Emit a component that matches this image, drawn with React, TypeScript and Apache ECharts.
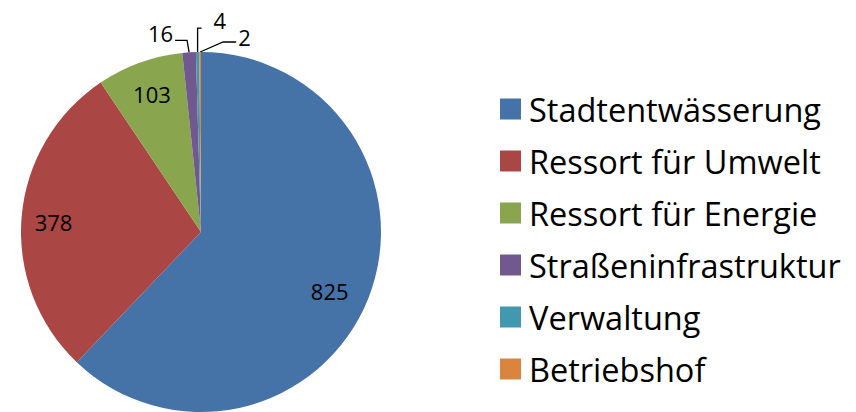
import React, { useEffect, useRef } from "react";
import * as echarts from "echarts";

const categories = [
  "Stadtentwässerung",
  "Ressort für Umwelt",
  "Ressort für Energie",
  "Straßeninfrastruktur",
  "Verwaltung",
  "Betriebshof",
];
const values = [825, 378, 103, 16, 4, 2];
const colors = ["#4572A7", "#AA4643", "#89A54E", "#71588F", "#4198AF", "#DB843D"];

// layout constants
const CX = 201;
const CY = 232;
const R = 180;
const INSIDE_FRAC = 0.8;
// small nudges of the inside labels (best-fit placement)
const insideNudge: [number, number][] = [
  [-5, 5],
  [-4, 2],
  [0, -3],
];
// leader lines for small slices: [dx1, dy1] from slice edge, then horizontal dx2, label side
const leaders: Record<number, { d1: [number, number]; d2: number; side: "left" | "right"; ly: number; gap: number }> = {
  3: { d1: [-2, -12], d2: -12, side: "right", ly: -7, gap: 2 },
  4: { d1: [0, -24], d2: 4, side: "left", ly: -8, gap: 12 },
  5: { d1: [23, -10], d2: 13, side: "left", ly: -5, gap: 2 },
};

export default function App() {
  const ref = useRef<HTMLDivElement>(null);
  useEffect(() => {
    if (!ref.current) return;
    const chart = echarts.init(ref.current, null, { renderer: "svg" });
    const total = values.reduce((a, b) => a + b, 0);
    const midAngle = (i: number) => {
      let cum = 0;
      for (let k = 0; k < i; k++) cum += values[k];
      return ((cum + values[i] / 2) / total) * Math.PI * 2;
    };
    const data = categories.map((name, i) => ({
      name,
      value: values[i],
      itemStyle: { color: colors[i] },
      labelLine: { show: i >= 3 },
    }));
    chart.setOption({
      animation: false,
      legend: {
        orient: "vertical",
        left: 500,
        top: 92.5,
        itemWidth: 21,
        itemHeight: 21,
        itemGap: 19,
        icon: "rect",
        padding: 0,
        selectedMode: false,
        textStyle: {
          fontFamily: "Open Sans",
          fontSize: 32.5,
          lineHeight: 32.5,
          color: "#000",
          padding: [0, 0, 0, 3],
        },
        data: categories,
      },
      series: [
        {
          type: "pie",
          center: [CX, CY],
          radius: R,
          startAngle: 90,
          clockwise: true,
          avoidLabelOverlap: false,
          data,
          label: {
            show: true,
            position: "outside",
            fontFamily: "Open Sans",
            fontSize: 22,
            color: "#000",
            formatter: "{c}",
          },
          labelLine: {
            show: true,
            lineStyle: { color: "#000", width: 1.3 },
          },
          labelLayout: (params: any) => {
            const i = params.dataIndex;
            const a = midAngle(i);
            if (i < 3) {
              return {
                x: CX + INSIDE_FRAC * R * Math.sin(a) + insideNudge[i][0],
                y: CY - INSIDE_FRAC * R * Math.cos(a) + insideNudge[i][1],
                align: "center",
                verticalAlign: "middle",
              };
            }
            const sx = CX + R * Math.sin(a);
            const sy = CY - R * Math.cos(a);
            const l = leaders[i];
            const p1 = [sx + l.d1[0], sy + l.d1[1]];
            const p2 = [p1[0] + l.d2, p1[1]];
            return {
              x: l.side === "right" ? p2[0] - l.gap : p2[0] + l.gap,
              y: p2[1] + l.ly,
              align: l.side,
              verticalAlign: "middle",
              labelLinePoints: [[sx, sy], p1, p2],
            };
          },
        },
      ],
    });
    return () => chart.dispose();
  }, []);
  return (
    <div
      ref={ref}
      style={{ position: "fixed", left: 0, top: 0, width: 856, height: 412, background: "#fff" }}
    />
  );
}
